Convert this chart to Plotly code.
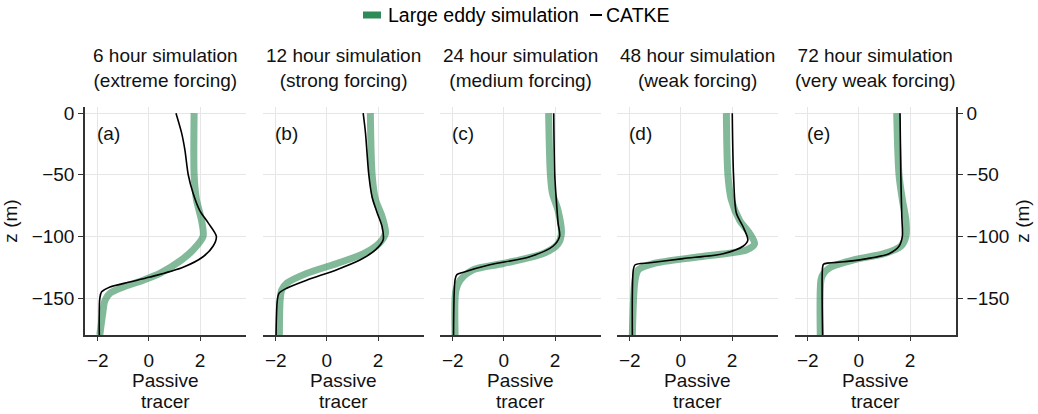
import plotly.graph_objects as go

# Panel titles
titles = [
    "6 hour simulation<br>(extreme forcing)",
    "12 hour simulation<br>(strong forcing)",
    "24 hour simulation<br>(medium forcing)",
    "48 hour simulation<br>(weak forcing)",
    "72 hour simulation<br>(very weak forcing)",
]
panel_tags = ["(a)", "(b)", "(c)", "(d)", "(e)"]
x_title_lines = ["Passive", "tracer"]

x_ticks = [-2, 0, 2]
z_ticks = [0, -50, -100, -150]

# Large eddy simulation profiles (depth in m, tracer value)
les_z_a = [0, -50, -70, -87, -100, -111, -119, -130, -135.5, -141, -146, -152, -163, -180]
les_c_a = [1.77, 1.77, 1.86, 2.06, 2.12, 1.73, 1.28, 0.43, -0.22, -1.0, -1.52, -1.72, -1.81, -1.92]
les_z_b = [0, -50, -70, -84, -97.6, -106, -114, -122, -130, -138, -143.6, -152, -180]
les_c_b = [1.70, 1.77, 1.90, 2.16, 2.29, 2.03, 1.44, 0.39, -0.79, -1.57, -1.77, -1.83, -1.86]
les_z_c = [0, -50, -65, -79, -97.6, -106, -114, -122, -127, -135.5, -144, -180]
les_c_c = [1.75, 1.82, 1.90, 2.12, 2.25, 2.12, 1.53, -0.03, -1.19, -1.71, -1.88, -1.91]
les_z_d = [0, -50, -70, -87, -97.6, -106, -111, -116.5, -122, -127, -135, -180]
les_c_d = [1.78, 1.84, 1.97, 2.30, 2.69, 2.88, 2.56, 0.74, -1.08, -1.66, -1.79, -1.90]
les_z_e = [0, -50, -70, -87, -100, -108, -114, -119, -125, -130, -135, -180]
les_c_e = [1.48, 1.57, 1.70, 1.84, 1.84, 1.64, 0.98, -0.20, -1.11, -1.38, -1.48, -1.51]

# CATKE profiles
catke_z_a = [0, -16, -30, -50, -65, -79, -89, -100, -108, -116.5, -125, -133, -137, -141, -145, -150, -180]
catke_c_a = [1.06, 1.28, 1.41, 1.54, 1.73, 1.99, 2.32, 2.64, 2.51, 2.12, 1.34, 0.04, -0.75, -1.52, -1.85, -1.92, -1.94]
catke_z_b = [0, -16, -50, -68, -81, -92, -103, -111, -119, -127, -135.5, -142, -146, -152, -180]
catke_c_b = [1.42, 1.51, 1.64, 1.77, 1.97, 2.16, 2.20, 1.90, 1.31, 0.39, -0.79, -1.57, -1.87, -1.94, -1.99]
catke_z_c = [0, -50, -70, -89, -100, -108, -116.5, -123, -129, -131, -135, -180]
catke_c_c = [1.95, 1.99, 2.05, 2.12, 2.18, 1.92, 1.01, -0.55, -1.58, -1.84, -1.91, -1.97]
catke_z_d = [0, -50, -81, -92, -103, -108, -114, -118, -121.4, -123, -127, -180]
catke_c_d = [2.01, 2.06, 2.17, 2.43, 2.62, 2.43, 1.65, 0.09, -1.21, -1.79, -1.86, -1.90]
catke_z_e = [0, -50, -84, -100, -108, -114, -118, -120.6, -122.5, -125, -180]
catke_c_e = [1.61, 1.64, 1.68, 1.70, 1.57, 1.18, 0.33, -0.59, -1.38, -1.42, -1.42]

les_z = [les_z_a, les_z_b, les_z_c, les_z_d, les_z_e]
les_c = [les_c_a, les_c_b, les_c_c, les_c_d, les_c_e]
catke_z = [catke_z_a, catke_z_b, catke_z_c, catke_z_d, catke_z_e]
catke_c = [catke_c_a, catke_c_b, catke_c_c, catke_c_d, catke_c_e]

W, H = 1038, 414
ML, MR, MT, MB = 85, 82, 107, 79
PW = W - ML - MR
PH = H - MT - MB
panel_left = [85, 263, 440, 617, 795]
panel_w = 161

FONT = "Liberation Sans, Arial, Helvetica, sans-serif"
FS = 19
GREEN = "seagreen"
GRID = "#e6e6e6"
AXIS = "#333333"
TXT = "#111111"

fig = go.Figure()

for i in range(5):
    sfx = "" if i == 0 else str(i + 1)
    fig.add_trace(go.Scatter(
        x=les_c[i], y=les_z[i], mode="lines",
        line=dict(color=GREEN, width=7, shape="spline", smoothing=0.8),
        opacity=0.6, xaxis="x" + sfx, yaxis="y" + sfx, showlegend=False,
        name="Large eddy simulation",
    ))
    fig.add_trace(go.Scatter(
        x=catke_c[i], y=catke_z[i], mode="lines",
        line=dict(color="black", width=1.6, shape="spline", smoothing=0.8),
        xaxis="x" + sfx, yaxis="y" + sfx, showlegend=False, name="CATKE",
    ))

layout = dict(
    width=W, height=H,
    margin=dict(l=ML, r=MR, t=MT, b=MB, pad=0, autoexpand=False),
    paper_bgcolor="white", plot_bgcolor="white",
    font=dict(family=FONT, size=FS, color=TXT),
    showlegend=False,
)

for i in range(5):
    sfx = "" if i == 0 else str(i + 1)
    d0 = (panel_left[i] - ML) / PW
    d1 = (panel_left[i] + panel_w - ML) / PW
    layout["xaxis" + sfx] = dict(
        domain=[d0, d1], anchor="y" + sfx, range=[-2.5, 3.8], automargin=False,
        tickvals=x_ticks, ticks="outside", ticklen=4, tickwidth=1.2, tickcolor=AXIS,
        ticklabelstandoff=3,
        showline=True, linecolor=AXIS, linewidth=1.5,
        showgrid=True, gridcolor=GRID, gridwidth=1, zeroline=False,
        tickfont=dict(size=FS),
    )
    ya = dict(
        anchor="x" + sfx, domain=[0, 1], range=[-180, 5], automargin=False,
        tickvals=z_ticks, showgrid=True, gridcolor=GRID, gridwidth=1, zeroline=False,
        tickfont=dict(size=FS),
    )
    if i == 0:
        ya.update(side="left", showline=True, linecolor=AXIS, linewidth=1.5,
                  ticks="outside", ticklen=5, tickwidth=1.2, tickcolor=AXIS,
                  showticklabels=True,
                  title=dict(text="z (m)", font=dict(size=FS), standoff=9))
    elif i == 4:
        ya.update(side="right", showline=True, linecolor=AXIS, linewidth=1.5,
                  ticks="outside", ticklen=5, tickwidth=1.2, tickcolor=AXIS,
                  showticklabels=True,
                  title=dict(text="z (m)", font=dict(size=FS), standoff=7))
    else:
        ya.update(showline=False, ticks="", showticklabels=False)
    layout["yaxis" + sfx] = ya

fig.update_layout(**layout)

def px_to_paper_y(ypix):
    return (H - MB - ypix) / PH

def px_to_paper_x(xpix):
    return (xpix - ML) / PW

# Panel titles, tags and x-axis titles
for i in range(5):
    cx = px_to_paper_x(panel_left[i] + panel_w / 2)
    fig.add_annotation(
        x=cx, y=px_to_paper_y(93), xref="paper", yref="paper",
        text=titles[i], showarrow=False, xanchor="center", yanchor="bottom",
        font=dict(size=FS, color=TXT), align="center",
    )
    fig.add_annotation(
        x=px_to_paper_x(panel_left[i] + 10), y=px_to_paper_y(121),
        xref="paper", yref="paper", text=panel_tags[i], showarrow=False,
        xanchor="left", yanchor="top", font=dict(size=FS, color=TXT),
    )
    for k, line_y in enumerate([380, 401]):
        fig.add_annotation(
            x=cx, y=px_to_paper_y(line_y), xref="paper", yref="paper",
            text=x_title_lines[k], showarrow=False, xanchor="center",
            yanchor="middle", font=dict(size=FS, color=TXT),
        )

# Legend row
leg_y = px_to_paper_y(15)
fig.add_shape(type="line", xref="paper", yref="paper",
              x0=px_to_paper_x(363), x1=px_to_paper_x(381), y0=leg_y, y1=leg_y,
              line=dict(color=GREEN, width=7))
fig.add_annotation(x=px_to_paper_x(386), y=leg_y, xref="paper", yref="paper",
                   text="Large eddy simulation", showarrow=False,
                   xanchor="left", yanchor="middle", font=dict(size=19.5, color="black"))
fig.add_shape(type="line", xref="paper", yref="paper",
              x0=px_to_paper_x(590), x1=px_to_paper_x(602), y0=leg_y, y1=leg_y,
              line=dict(color="black", width=2))
fig.add_annotation(x=px_to_paper_x(604), y=leg_y, xref="paper", yref="paper",
                   text="CATKE", showarrow=False,
                   xanchor="left", yanchor="middle", font=dict(size=19.5, color="black"))

fig.write_html("out.html")
